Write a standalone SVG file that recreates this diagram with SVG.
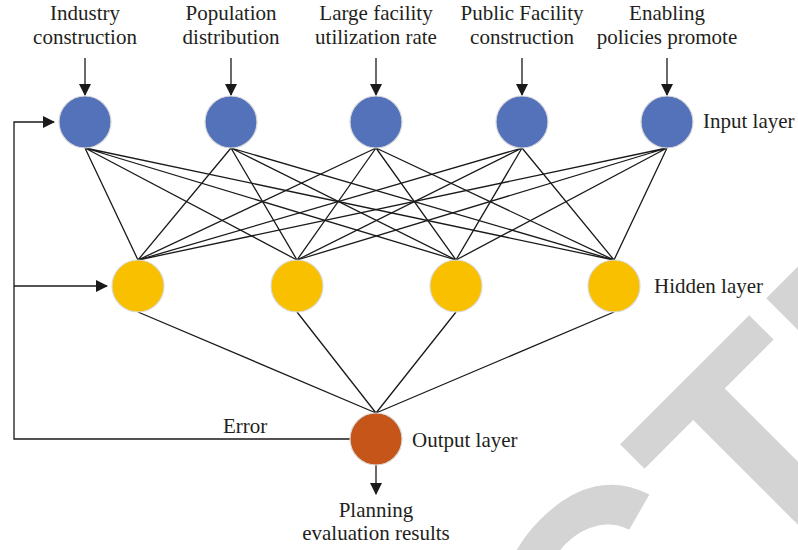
<svg xmlns="http://www.w3.org/2000/svg" width="798" height="550" viewBox="0 0 798 550">
<defs>
<style>
.lbl{font-family:"Liberation Serif","Times New Roman",serif;font-size:21px;fill:#231f20}
.mid{text-anchor:middle}
.ln{stroke:#1a1a1a;stroke-width:1.3;fill:none}
.in{fill:#5472ba;stroke:#d9d9d9;stroke-width:1.2}
.hid{fill:#f9c000;stroke:#d9d9d9;stroke-width:1.2}
.out{fill:#c55518;stroke:#d9d9d9;stroke-width:1.2}
.wm{font-family:"Liberation Sans",Arial,sans-serif;font-weight:bold;font-size:310px;fill:#d4d4d4}
</style>
<marker id="ah" viewBox="0 0 12 12" refX="11" refY="6" markerWidth="12" markerHeight="12" markerUnits="userSpaceOnUse" orient="auto">
<path d="M0,0 L12,6 L0,12 Z" fill="#1a1a1a"/>
</marker>
</defs>
<rect width="798" height="550" fill="#ffffff"/>
<text class="wm" transform="translate(768,598) rotate(-45)" x="-1291" y="0">RETRACTED</text>

<g id="connectors">
<path class="ln" d="M85,148L138,260M85,148L297,260M85,148L456,260M85,148L614,260"/>
<path class="ln" d="M231,148L138,260M231,148L297,260M231,148L456,260M231,148L614,260"/>
<path class="ln" d="M376,148L138,260M376,148L297,260M376,148L456,260M376,148L614,260"/>
<path class="ln" d="M522,148L138,260M522,148L297,260M522,148L456,260M522,148L614,260"/>
<path class="ln" d="M667,148L138,260M667,148L297,260M667,148L456,260M667,148L614,260"/>
<path class="ln" d="M138,312L376,413M297,312L376,413M456,312L376,413M614,312L376,413"/>
<path class="ln" d="M85,58V95" marker-end="url(#ah)"/>
<path class="ln" d="M231,58V95" marker-end="url(#ah)"/>
<path class="ln" d="M376,58V95" marker-end="url(#ah)"/>
<path class="ln" d="M522,58V95" marker-end="url(#ah)"/>
<path class="ln" d="M667,58V95" marker-end="url(#ah)"/>
<path class="ln" d="M350,439H14V122H54" marker-end="url(#ah)"/>
<path class="ln" d="M14,286H107" marker-end="url(#ah)"/>
<path class="ln" d="M376,465V494" marker-end="url(#ah)"/>
<text class="lbl" x="223" y="433">Error</text>
</g>

<g id="in1"><circle class="in" cx="85" cy="122" r="26"/><text class="lbl mid" x="85" y="20">Industry</text><text class="lbl mid" x="85" y="44">construction</text></g>
<g id="in2"><circle class="in" cx="231" cy="122" r="26"/><text class="lbl mid" x="231" y="20">Population</text><text class="lbl mid" x="231" y="44">distribution</text></g>
<g id="in3"><circle class="in" cx="376" cy="122" r="26"/><text class="lbl mid" x="376" y="20">Large facility</text><text class="lbl mid" x="376" y="44">utilization rate</text></g>
<g id="in4"><circle class="in" cx="522" cy="122" r="26"/><text class="lbl mid" x="522" y="20">Public Facility</text><text class="lbl mid" x="522" y="44">construction</text></g>
<g id="in5"><circle class="in" cx="667" cy="122" r="26"/><text class="lbl mid" x="667" y="20">Enabling</text><text class="lbl mid" x="667" y="44">policies promote</text></g>
<g id="input-label"><text class="lbl" x="703" y="128">Input layer</text></g>

<g id="h1"><circle class="hid" cx="138" cy="286" r="26"/></g>
<g id="h2"><circle class="hid" cx="297" cy="286" r="26"/></g>
<g id="h3"><circle class="hid" cx="456" cy="286" r="26"/></g>
<g id="h4"><circle class="hid" cx="614" cy="286" r="26"/></g>
<g id="hidden-label"><text class="lbl" x="654" y="293">Hidden layer</text></g>

<g id="out"><circle class="out" cx="376" cy="439" r="26"/><text class="lbl" x="412" y="447">Output layer</text></g>
<g id="result"><text class="lbl mid" x="376" y="517">Planning</text><text class="lbl mid" x="376" y="540">evaluation results</text></g>
</svg>
